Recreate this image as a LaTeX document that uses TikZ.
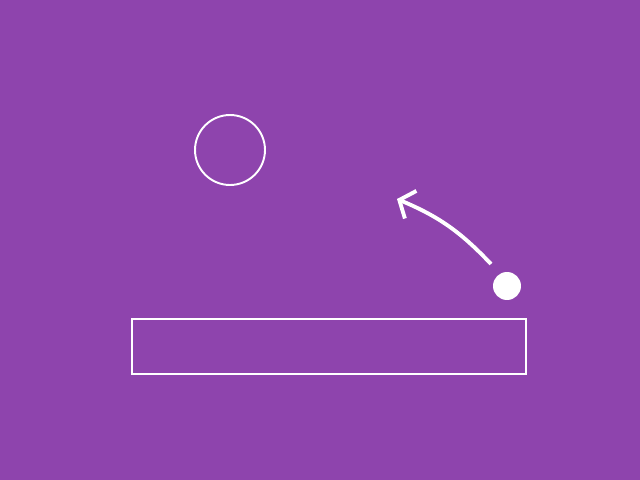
\documentclass[tikz,border=0pt]{standalone}
\usepackage{tikz}
\usetikzlibrary{arrows.meta, positioning}
\definecolor{bgpurple}{RGB}{142, 68, 173}

\tikzset{
  outline/.style={draw=white, line width=1.1pt, inner sep=0pt},
  ball/.style={circle, fill=white, inner sep=0pt, minimum size=0.56cm},
  swing/.style={white, line width=2.2pt, -{Straight Barb[length=7pt, width=17pt, line width=2.2pt]}}
}

\begin{document}
\begin{tikzpicture}[x=0.02cm, y=-0.02cm]
  \fill[bgpurple] (0,0) rectangle (640,480);
  \useasboundingbox (0,0) rectangle (640,480);

  \node[outline, circle, minimum size=1.4cm] (ring) at (230,150) {};
  \node[ball] (dot) at (507,286) {};
  \node[outline, rectangle, minimum width=7.88cm, minimum height=1.1cm] (bar) at (329,346.5) {};

  % the throw
  \coordinate (start) at (491,264);
  \coordinate (aim) at (397,199);
  \draw[swing] (start) to[bend right=12] (aim);
\end{tikzpicture}
\end{document}
